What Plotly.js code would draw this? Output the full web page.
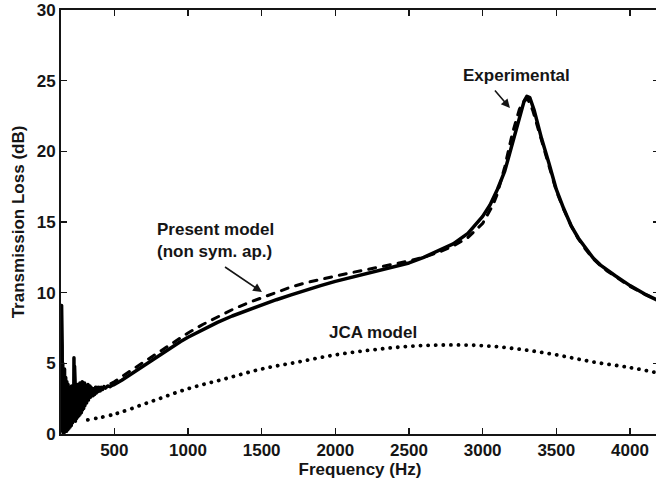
<!DOCTYPE html>
<html>
<head>
<meta charset="utf-8">
<script src="https://cdn.plot.ly/plotly-3.0.1.min.js"></script>
<style>
html, body { margin: 0; padding: 0; overflow: hidden; background: #fff; }
#chart { width: 659px; height: 489px; }
path.js-line { stroke-linecap: round !important; stroke-linejoin: round !important; }
</style>
</head>
<body>
<div id="chart"></div>
<script>
// Experimental (measured) transmission loss, dB
const expFreq = [140,142,144,146,148,150,152,154,156,158,160,162,164,166,168,170,172,174,176,178,180,182,184,186,188,190,192,194,196,198,200,202,204,206,208,210,212,214,216,218,220,222,224,226,228,230,232,234,236,238,240,242,244,246,248,250,252,254,256,258,260,262,264,266,268,270,272,274,276,278,280,282,284,286,288,290,292,294,296,298,300,303,306,309,312,315,318,321,324,327,330,334,338,342,346,350,355,360,366,372,378,384,390,397,404,412,420,430,440,455,470,485,500,550,600,650,700,750,800,850,900,950,1000,1100,1200,1300,1400,1500,1600,1700,1800,1900,2000,2100,2200,2300,2400,2500,2600,2700,2800,2900,3000,3050,3100,3150,3200,3250,3280,3300,3320,3350,3400,3450,3500,3550,3600,3650,3700,3750,3800,3850,3900,3950,4000,4100,4200];
const expTL = [0.3,9.1,0.8,6.2,0.2,5.0,0.1,4.3,0.4,3.8,0.1,4.6,0.5,3.4,0.2,4.0,0.7,3.1,0.2,3.7,0.9,2.8,0.3,3.5,0.6,2.9,0.4,3.3,1.0,2.6,0.5,3.2,1.2,2.8,0.6,3.4,1.1,2.7,0.8,3.0,1.3,2.5,0.9,5.4,1.0,4.8,1.4,3.6,0.9,2.9,1.5,3.4,1.1,2.7,1.6,3.5,1.2,2.9,1.8,3.3,1.3,3.0,1.9,3.6,1.4,2.8,2.0,3.4,1.5,3.1,2.1,3.7,1.7,2.9,2.3,3.5,1.8,3.2,2.4,3.6,2.0,3.1,2.5,3.4,2.2,3.3,2.6,3.5,2.4,3.2,2.7,3.4,2.6,3.3,2.8,3.2,2.7,3.2,2.8,3.3,2.9,3.3,3.0,3.3,3.05,3.3,3.15,3.35,3.25,3.4,3.35,3.45,3.5,3.8,4.15,4.5,4.85,5.2,5.55,5.9,6.2,6.55,6.85,7.4,7.9,8.35,8.75,9.15,9.5,9.85,10.2,10.5,10.8,11.05,11.3,11.55,11.8,12.1,12.5,12.95,13.45,14.2,15.4,16.2,17.3,18.6,20.5,22.5,23.5,23.9,23.8,22.9,20.9,19.15,17.3,15.95,14.75,13.85,13.1,12.45,11.95,11.55,11.2,10.85,10.5,9.9,9.4];

// Present model (non sym. ap.)
const modFreq = [140,200,300,400,500,600,700,800,900,1000,1100,1200,1300,1400,1500,1600,1700,1800,1900,2000,2100,2200,2300,2400,2500,2600,2700,2800,2900,3000,3070,3100,3150,3200,3250,3290,3310,3340,3400,3450,3500,3550,3600,3650,3700,3750,3800,3850,3900,3950,4000,4100,4200];
const modTL = [1.2,1.7,2.5,3.1,3.7,4.4,5.1,5.8,6.5,7.15,7.75,8.3,8.8,9.25,9.65,10.05,10.4,10.7,10.95,11.2,11.4,11.6,11.8,12.0,12.25,12.5,12.85,13.3,13.9,14.9,16.2,17.0,18.9,21.2,23.0,23.7,23.6,22.9,20.7,19.0,17.2,15.9,14.75,13.8,13.05,12.4,11.9,11.5,11.15,10.8,10.45,9.9,9.4];

// JCA model
const jcaFreq = [320,500,750,1000,1250,1500,1750,2000,2250,2500,2750,3000,3250,3500,3750,4000,4200];
const jcaTL = [1.0,1.4,2.3,3.2,3.9,4.6,5.1,5.6,5.95,6.2,6.3,6.25,6.0,5.6,5.1,4.7,4.3];

// Axis ticks
const xTickVals = [500,1000,1500,2000,2500,3000,3500,4000];
const xTickText = ['500','1000','1500','2000','2500','3000','3500','4000'];
const yTickVals = [0,5,10,15,20,25,30];
const yTickText = ['0','5','10','15','20','25','30'];

const FONT = 'Liberation Sans, Arial, Helvetica, sans-serif';
const ink = '#151515';

const traces = [
  { x: modFreq, y: modTL, mode: 'lines', name: 'Present model',
    line: { color: '#000', width: 3, dash: '7px,8px' } },
  { x: expFreq, y: expTL, mode: 'lines', name: 'Experimental',
    line: { color: '#000', width: 3.5 } },
  { x: jcaFreq, y: jcaTL, mode: 'lines', name: 'JCA model', line: { color: '#000', width: 3.8, dash: '0.1px,7.5px', shape: 'spline' } }
];

const axisCommon = {
  showgrid: false, zeroline: false, showline: true, linecolor: ink, linewidth: 2,
  mirror: 'ticks', ticks: 'inside', ticklen: 6, tickwidth: 1.5, tickcolor: ink,
  tickfont: { family: FONT, size: 17, color: ink, weight: 'bold' }
};

const layout = {
  width: 659, height: 489,
  margin: { l: 61, r: 0, t: 10, b: 55 },
  paper_bgcolor: '#fff', plot_bgcolor: '#fff',
  showlegend: false,
  xaxis: Object.assign({}, axisCommon, {
    range: [138, 4197], tickmode: 'array', tickvals: xTickVals, ticktext: xTickText,
    title: { text: 'Frequency (Hz)', font: { family: FONT, size: 17, color: ink, weight: 'bold' }, standoff: 4 }
  }),
  yaxis: Object.assign({}, axisCommon, {
    range: [0, 30], tickmode: 'array', tickvals: yTickVals, ticktext: yTickText,
    title: { text: 'Transmission Loss (dB)', font: { family: FONT, size: 17, color: ink, weight: 'bold' }, standoff: 8 }
  }),
  annotations: [
    { x: 3233, y: 25.4, xref: 'x', yref: 'y', text: 'Experimental', showarrow: false,
      font: { family: FONT, size: 17, color: ink, weight: 'bold' } },
    { x: 3185, y: 23.07, ax: 3063, ay: 24.55, axref: 'x', ayref: 'y', xref: 'x', yref: 'y',
      text: ' ', showarrow: true, arrowhead: 2, arrowsize: 1.1, arrowwidth: 1.6, arrowcolor: ink, standoff: 0, startstandoff: 0 },
    { x: 776, y: 13.69, xref: 'x', yref: 'y', xanchor: 'left', yanchor: 'middle', align: 'left',
      text: 'Present model<br>(non sym. ap.)', showarrow: false,
      font: { family: FONT, size: 17, color: ink, weight: 'bold' } },
    { x: 1502, y: 10.05, ax: 1231, ay: 11.96, axref: 'x', ayref: 'y', xref: 'x', yref: 'y',
      text: ' ', showarrow: true, arrowhead: 2, arrowsize: 1.1, arrowwidth: 1.6, arrowcolor: ink, standoff: 0, startstandoff: 0 },
    { x: 2259, y: 7.15, xref: 'x', yref: 'y', text: 'JCA model', showarrow: false,
      font: { family: FONT, size: 17, color: ink, weight: 'bold' } }
  ]
};

Plotly.newPlot('chart', traces, layout, { displayModeBar: false, staticPlot: true });
</script>
</body>
</html>
